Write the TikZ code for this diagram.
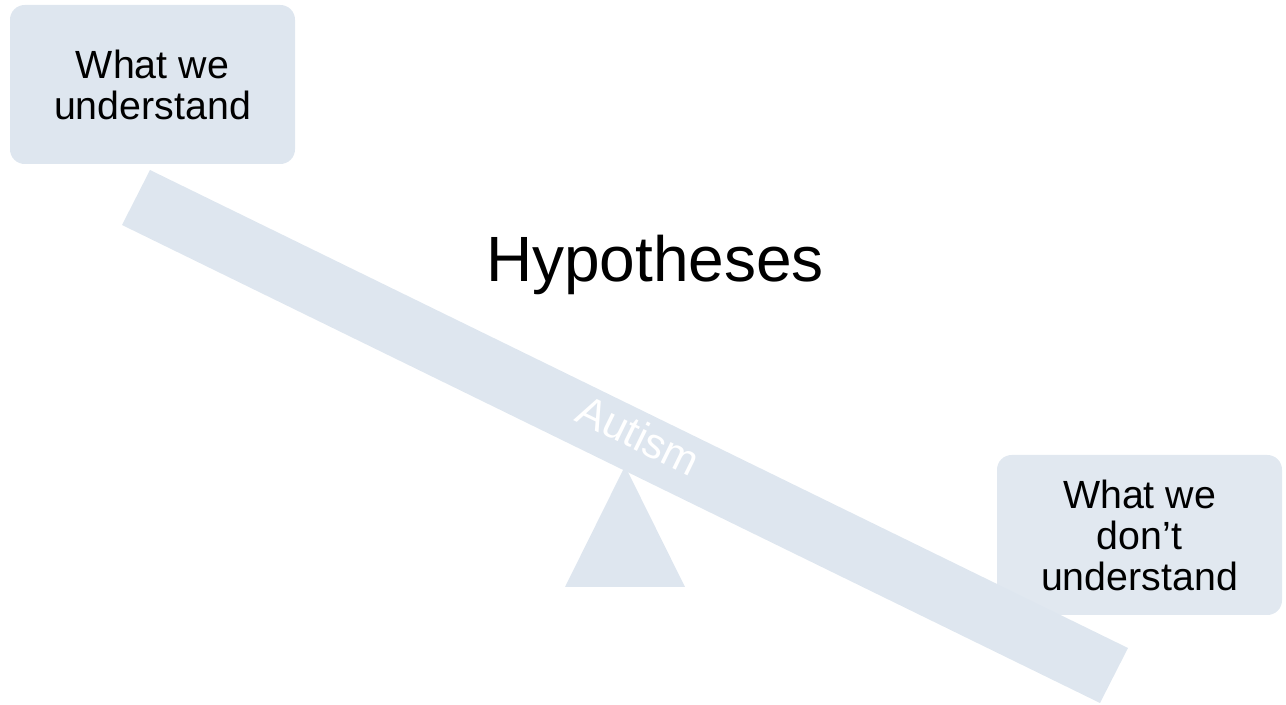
\documentclass[tikz,border=0pt]{standalone}
\usepackage{fontspec}
\setmainfont{Liberation Sans}
\definecolor{beamblue}{RGB}{222,230,239}
\begin{document}
\begin{tikzpicture}[x=0.75pt,y=-0.75pt,
  infobox/.style={fill=beamblue, rounded corners=11pt, minimum width=213.75pt,
    align=center, inner sep=0pt,
    font=\fontsize{29.5}{30.75}\selectfont},
  shapefill/.style={fill=beamblue, draw=none}]
\useasboundingbox (0,0) rectangle (1286,705);
% fulcrum
\fill[shapefill] (625,466) -- (685,587) -- (565,587) -- cycle;
% beam
\fill[shapefill] (150,170) -- (1128,648) -- (1100,703) -- (122,225) -- cycle;
% label on beam
\node[white, rotate=-26.05, inner sep=0pt, font=\fontsize{32}{36}\selectfont] (autism) at (639,435) {Autism};
% boxes
\node[infobox, minimum height=119.25pt] (known) at (152.5,84.5) {What we\\understand};
\node[infobox, minimum height=120pt, fill opacity=0.92, text opacity=1] (unknown) at (1139.5,535) {What we\\don’t\\understand};
% title
\node[anchor=base, inner sep=0pt, font=\fontsize{48}{56}\selectfont] (title) at (655,282) {Hypotheses};
\end{tikzpicture}
\end{document}
